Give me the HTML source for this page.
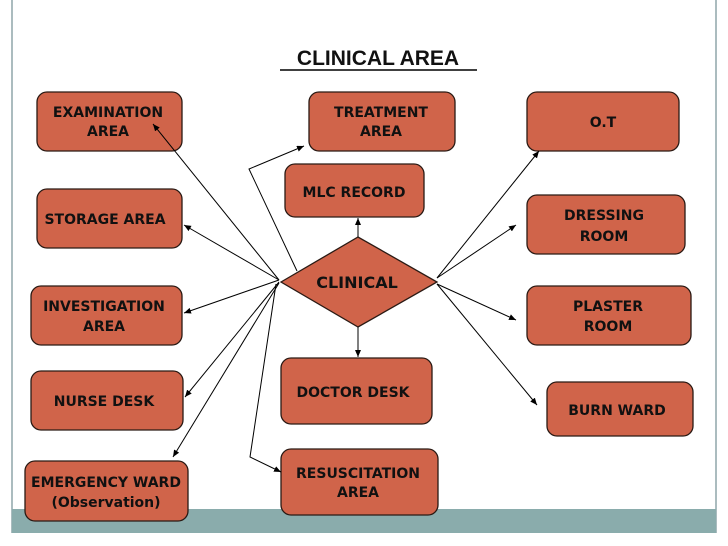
<!DOCTYPE html>
<html><head><meta charset="utf-8"><style>
html,body{margin:0;padding:0;background:#fff}
svg{display:block}
text{font-family:"DejaVu Sans","Liberation Sans",sans-serif;font-weight:bold;fill:#111;font-size:14px;text-anchor:middle}
</style></head><body>
<svg width="728" height="546" viewBox="0 0 728 546" xmlns="http://www.w3.org/2000/svg">
<defs>
<marker id="a" markerWidth="8" markerHeight="8" refX="7" refY="3" orient="auto" markerUnits="userSpaceOnUse">
<path d="M0,0 L7,3 L0,6 z" fill="#000"/></marker>
</defs>
<line x1="12" y1="0" x2="12" y2="533" stroke="#8fa6aa" stroke-width="1.5"/>
<line x1="716" y1="0" x2="716" y2="533" stroke="#8fa6aa" stroke-width="1.5"/>
<rect x="12" y="509" width="704" height="24" fill="#8aacac"/>
<text x="378" y="65" style="font-family:'Liberation Sans',sans-serif;font-size:21px">CLINICAL AREA</text>
<line x1="280" y1="70" x2="477" y2="70" stroke="#000" stroke-width="1.5"/>
<g fill="#d0644a" stroke="#2a1a14" stroke-width="1.3">
<rect x="37" y="92" width="145" height="59" rx="10"/>
<rect x="309" y="92" width="146" height="59" rx="10"/>
<rect x="527" y="92" width="152" height="59" rx="10"/>
<rect x="285" y="164" width="139" height="53" rx="10"/>
<rect x="37" y="189" width="145" height="59" rx="10"/>
<rect x="527" y="195" width="158" height="59" rx="10"/>
<rect x="31" y="286" width="151" height="59" rx="10"/>
<rect x="527" y="286" width="164" height="59" rx="10"/>
<rect x="31" y="371" width="152" height="59" rx="10"/>
<rect x="281" y="358" width="151" height="66" rx="10"/>
<rect x="547" y="382" width="146" height="54" rx="10"/>
<rect x="25" y="461" width="163" height="60" rx="10"/>
<rect x="281" y="449" width="157" height="66" rx="10"/>
<polygon points="281,282 358,237 437,282 358,327"/>
</g>
<g stroke="#000" stroke-width="1" fill="none" marker-end="url(#a)">
<line x1="279" y1="280" x2="153" y2="124"/>
<line x1="279" y1="280" x2="184" y2="225"/>
<line x1="279" y1="280" x2="184" y2="313"/>
<line x1="279" y1="282" x2="185" y2="397"/>
<line x1="279" y1="283" x2="173" y2="457"/>
<polyline points="276,284 250,457 281,472"/>
<polyline points="297,271 249,169 304,146"/>
<line x1="358" y1="237" x2="358" y2="218"/>
<line x1="358" y1="327" x2="358" y2="357"/>
<line x1="437" y1="278" x2="539" y2="151"/>
<line x1="437" y1="278" x2="516" y2="225"/>
<line x1="437" y1="284" x2="516" y2="320"/>
<line x1="437" y1="284" x2="537" y2="405"/>
</g>
<text x="108" y="117">EXAMINATION</text><text x="108" y="136">AREA</text>
<text x="381" y="117">TREATMENT</text><text x="381" y="136">AREA</text>
<text x="603" y="127">O.T</text>
<text x="354" y="197">MLC RECORD</text>
<text x="105" y="224">STORAGE AREA</text>
<text x="604" y="220">DRESSING</text><text x="604" y="241">ROOM</text>
<text x="104" y="311">INVESTIGATION</text><text x="104" y="331">AREA</text>
<text x="608" y="311">PLASTER</text><text x="608" y="331">ROOM</text>
<text x="357" y="288" style="font-size:16px">CLINICAL</text>
<text x="104" y="406">NURSE DESK</text>
<text x="353" y="397">DOCTOR DESK</text>
<text x="617" y="415">BURN WARD</text>
<text x="106" y="487">EMERGENCY WARD</text><text x="106" y="507" style="font-weight:bold">(Observation)</text>
<text x="358" y="478">RESUSCITATION</text><text x="358" y="497">AREA</text>
</svg>
</body></html>
